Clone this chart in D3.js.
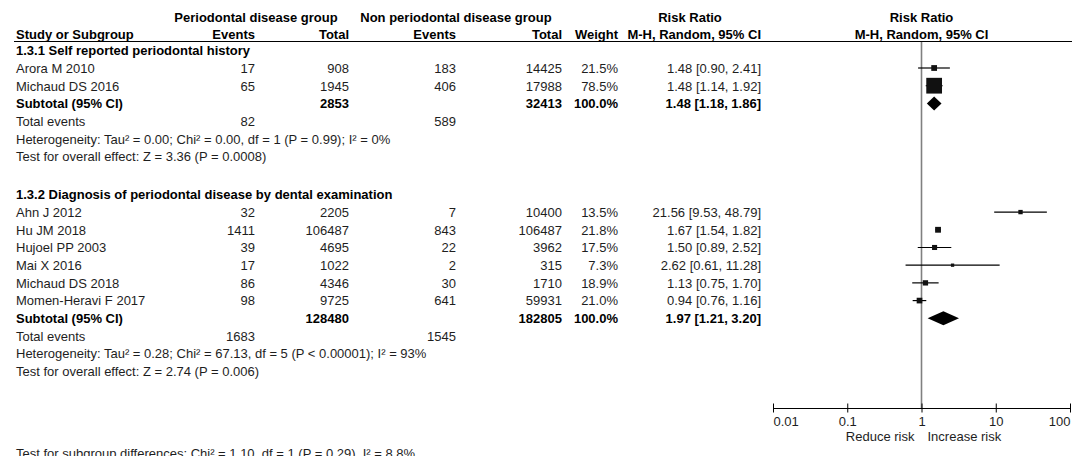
<!DOCTYPE html>
<html>
<head>
<meta charset="utf-8">
<script src="https://cdn.jsdelivr.net/npm/d3@7"></script>
<style>
  body { margin: 0; background: #fff; }
  svg { display: block; font-family: "Liberation Sans", Arial, sans-serif; font-size: 13px; }
  .b { font-weight: bold; }
</style>
</head>
<body>
<svg width="1072" height="456"></svg>
<script>
// данные исследований
const studyNames = ["Arora M 2010", "Michaud DS 2016", "Ahn J 2012", "Hu JM 2018",
    "Hujoel PP 2003", "Mai X 2016", "Michaud DS 2018", "Momen-Heravi F 2017"];
const studyGroup = [0, 0, 1, 1, 1, 1, 1, 1];
const evPerio = [17, 65, 32, 1411, 39, 17, 86, 98];
const totPerio = [908, 1945, 2205, 106487, 4695, 1022, 4346, 9725];
const evNon = [183, 406, 7, 843, 22, 2, 30, 641];
const totNon = [14425, 17988, 10400, 106487, 3962, 315, 1710, 59931];
const weights = [21.5, 78.5, 13.5, 21.8, 17.5, 7.3, 18.9, 21.0];
const rr = [1.48, 1.48, 21.56, 1.67, 1.50, 2.62, 1.13, 0.94];
const rrLo = [0.90, 1.14, 9.53, 1.54, 0.89, 0.61, 0.75, 0.76];
const rrHi = [2.41, 1.92, 48.79, 1.82, 2.52, 11.28, 1.70, 1.16];

// подгруппы
const groupTitles = ["1.3.1 Self reported periodontal history",
    "1.3.2 Diagnosis of periodontal disease by dental examination"];
const subTotPerio = [2853, 128480];
const subTotNon = [32413, 182805];
const subEvPerio = [82, 1683];
const subEvNon = [589, 1545];
const subRR = [1.48, 1.97];
const subLo = [1.18, 1.21];
const subHi = [1.86, 3.20];
const hetText = ["Heterogeneity: Tau² = 0.00; Chi² = 0.00, df = 1 (P = 0.99); I² = 0%",
    "Heterogeneity: Tau² = 0.28; Chi² = 67.13, df = 5 (P < 0.00001); I² = 93%"];
const effectText = ["Test for overall effect: Z = 3.36 (P = 0.0008)",
    "Test for overall effect: Z = 2.74 (P = 0.006)"];
const diffText = "Test for subgroup differences: Chi² = 1.10, df = 1 (P = 0.29), I² = 8.8%";

// ось
const axisTicks = [0.01, 0.1, 1, 10, 100];
const axisLabels = ["0.01", "0.1", "1", "10", "100"];

const svg = d3.select("svg");

// колонки (правый край) и строки
const col = { name: 16, evP: 255, totP: 349, evN: 456, totN: 562, w: 618, ci: 761 };
const groupStart = [0, 8.14];           // номер строки заголовка подгруппы
const scY = d3.scaleLinear().domain([0, 1]).range([50.3, 68]);
const axisY = 408;

const scX = d3.scaleLog().domain([0.01, 100]).range([773, 1070]);
const scSize = d3.scaleLinear().domain([0, 80]).range([2, 16]);

const fmt2 = d3.format(".2f");
const ciText = (v, l, h) => `${fmt2(v)} [${fmt2(l)}, ${fmt2(h)}]`;

function txt(x, row, s, anchor, bold) {
    svg.append("text")
        .attr("x", x)
        .attr("y", scY(row) + 4.8)
        .attr("text-anchor", anchor || "start")
        .attr("class", bold ? "b" : null)
        .attr("fill", bold ? "#000" : "#1e1e1e")
        .text(s);
}

// шапка таблицы
const head1 = (16.7 - 50.3) / 17.7, head2 = (34.3 - 50.3) / 17.7;
svg.append("g").selectAll("text")
    .data([["Periodontal disease group", 256], ["Non periodontal disease group", 456],
           ["Risk Ratio", 690], ["Risk Ratio", scX(1)]])
    .join("text")
    .attr("class", "b")
    .attr("x", d => d[1])
    .attr("y", scY(head1) + 4.8)
    .attr("text-anchor", "middle")
    .text(d => d[0]);

txt(col.name, head2, "Study or Subgroup", "start", true);
txt(col.evP, head2, "Events", "end", true);
txt(col.totP, head2, "Total", "end", true);
txt(col.evN, head2, "Events", "end", true);
txt(col.totN, head2, "Total", "end", true);
txt(col.w, head2, "Weight", "end", true);
txt(col.ci, head2, "M-H, Random, 95% CI", "end", true);
txt(scX(1), head2, "M-H, Random, 95% CI", "middle", true);

svg.append("line")
    .attr("x1", 14).attr("x2", 1072)
    .attr("y1", 41.5).attr("y2", 41.5)
    .attr("stroke", "#000").attr("stroke-width", 1);

// линия отсутствия эффекта
svg.append("line")
    .attr("x1", scX(1)).attr("x2", scX(1))
    .attr("y1", 42).attr("y2", axisY)
    .attr("stroke", "#808080").attr("stroke-width", 1.6);

// строки подгрупп
groupTitles.forEach((title, g) => {
    const r0 = groupStart[g];
    txt(col.name, r0, title, "start", true);

    const idx = d3.range(studyNames.length).filter(i => studyGroup[i] === g);
    idx.forEach((i, k) => {
        const r = r0 + 1 + k;
        txt(col.name, r, studyNames[i]);
        txt(col.evP, r, evPerio[i], "end");
        txt(col.totP, r, totPerio[i], "end");
        txt(col.evN, r, evNon[i], "end");
        txt(col.totN, r, totNon[i], "end");
        txt(col.w, r, d3.format(".1f")(weights[i]) + "%", "end");
        txt(col.ci, r, ciText(rr[i], rrLo[i], rrHi[i]), "end");

        const y = scY(r);
        svg.append("line")
            .attr("x1", scX(Math.max(rrLo[i], 0.01))).attr("x2", scX(Math.min(rrHi[i], 100)))
            .attr("y1", y).attr("y2", y)
            .attr("stroke", "#000").attr("stroke-width", 1.2);
        const s = scSize(weights[i]);
        svg.append("rect")
            .attr("x", scX(rr[i]) - s / 2).attr("y", y - s / 2)
            .attr("width", s).attr("height", s)
            .attr("fill", "#111");
    });

    const rs = r0 + 1 + idx.length;
    txt(col.name, rs, "Subtotal (95% CI)", "start", true);
    txt(col.totP, rs, subTotPerio[g], "end", true);
    txt(col.totN, rs, subTotNon[g], "end", true);
    txt(col.w, rs, "100.0%", "end", true);
    txt(col.ci, rs, ciText(subRR[g], subLo[g], subHi[g]), "end", true);

    const yd = scY(rs);
    svg.append("path")
        .attr("d", `M${scX(subLo[g])},${yd} L${scX(subRR[g])},${yd - 7} L${scX(subHi[g])},${yd} L${scX(subRR[g])},${yd + 7} Z`)
        .attr("fill", "#000");

    txt(col.name, rs + 1, "Total events");
    txt(col.evP, rs + 1, subEvPerio[g], "end");
    txt(col.evN, rs + 1, subEvNon[g], "end");
    txt(col.name, rs + 2, hetText[g]);
    txt(col.name, rs + 3, effectText[g]);
});

// ось
const axis = d3.axisBottom(scX)
    .tickValues(axisTicks)
    .tickFormat((d, i) => axisLabels[i])
    .tickSizeOuter(0)
    .tickSizeInner(4.5)
    .tickPadding(4);

const gAxis = svg.append("g")
    .attr("transform", `translate(0, ${axisY})`)
    .call(axis);
gAxis.select(".domain").attr("stroke", "#000");
gAxis.selectAll(".tick line").attr("y1", -4.5).attr("stroke", "#000");
gAxis.selectAll(".tick text")
    .attr("font-family", "Liberation Sans, Arial, sans-serif")
    .attr("font-size", 13)
    .attr("fill", "#1e1e1e")
    .attr("text-anchor", (d, i) => i === 0 ? "start" : (i === axisTicks.length - 1 ? "end" : "middle"));

svg.append("text").attr("x", scX(1) - 7).attr("y", axisY + 33)
    .attr("text-anchor", "end").attr("fill", "#1e1e1e").text("Reduce risk");
svg.append("text").attr("x", scX(1) + 6).attr("y", axisY + 33)
    .attr("text-anchor", "start").attr("fill", "#1e1e1e").text("Increase risk");

svg.append("text").attr("x", col.name).attr("y", 457.5)
    .attr("fill", "#1e1e1e").text(diffText);
</script>
</body>
</html>
